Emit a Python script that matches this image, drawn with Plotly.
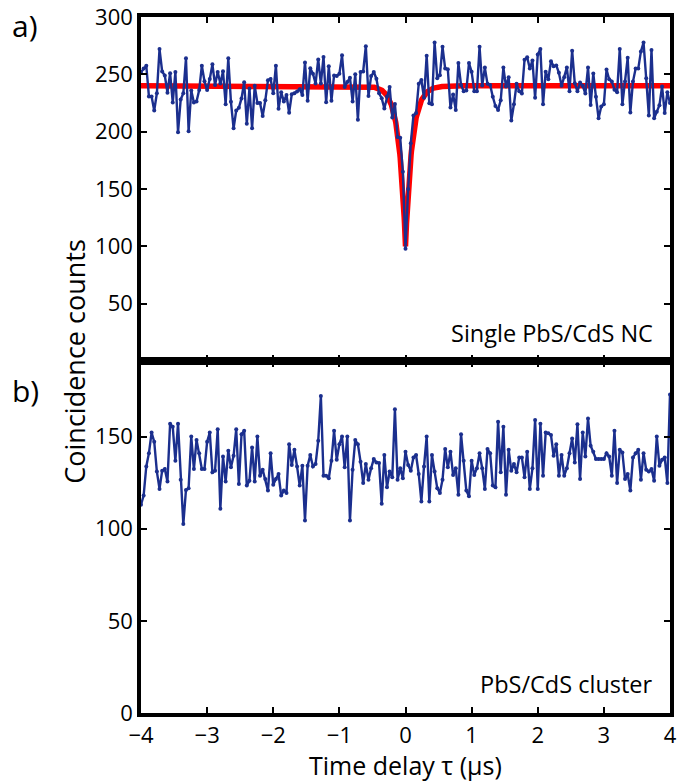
import numpy as np
import plotly.graph_objects as go
from plotly.subplots import make_subplots

# Time axis: 40 ns bins from -4 to 4 microseconds
t_start, t_stop, n_bins = -4.0, 4.0, 201
tau = np.linspace(t_start, t_stop, n_bins)

# (a) single PbS/CdS nanocrystal: coincidence counts per bin
counts_nc = [
    252, 255,
    257.5, 230.7, 230.7, 218.5, 233.5, 272, 252.5, 249, 234, 251,
    225.5, 252, 199.5, 228, 233.5, 264, 200.4, 236, 225.5, 226.4,
    236.3, 257.5, 244, 236.3, 246, 258.7, 240.6, 252, 242, 252.7,
    224, 264, 226, 203, 218.5, 220.8, 229, 243, 207, 237.7,
    203, 240, 225, 225, 213.7, 227.3, 244.8, 246, 233.5, 257.5,
    220, 234.3, 226.4, 232, 216.5, 232.6, 233.5, 235, 237, 232,
    260.4, 227, 255.3, 250.5, 242, 263,
    242, 265.2, 225.6, 257, 227, 249, 248.5, 250.5, 266.6, 239,
    243.4, 247, 226.4, 250, 210.3, 252, 252.5, 274.5, 231.2, 248.5,
    252, 246.2, 233.5, 229.2, 220.2, 230.7, 239, 212.3, 224.2, 195.3,
    194.7,
    165, 98, 150, 190,
    214, 216.2, 241.7, 245.1, 229.5, 266.3, 224.7, 223.9, 277.7, 246.5,
    249.3, 274, 255, 254.4, 221, 232.4, 219, 259.8, 240.8, 235.2,
    236, 259.8, 252.2, 235.2, 235.2, 274, 240.3, 255.9, 241.7, 240.8,
    230.4, 222.4, 219, 227.3, 255.9, 239.4, 247.4, 209.7, 223.9, 241.7,
    235.2, 233.2, 262.7, 264.9, 255, 262.1, 229.5, 267.2, 272, 223.9,
    252.2, 245.7, 261.5, 257, 257.8, 251.3, 240, 247.4, 255.9, 235.2,
    270.6, 242.3, 235.2, 242.8, 240, 233.2, 255.9, 223.3, 250.8, 230.4,
    211.7, 221.9, 223.9, 254.2, 245.7, 243.7, 236.6, 234.3, 272, 223.9,
    243.7, 264.4, 216.8, 243.7, 255, 255, 270, 277.7, 246.5, 214,
    271.2, 211.7, 217.3, 223, 239.4, 216.2, 234.3, 225,
]

# (b) PbS/CdS cluster: coincidence counts per bin
counts_cluster = [
    113, 118,
    133.8, 141, 152.2, 147.2, 131, 121.6, 131.5, 132.4, 125.6, 157,
    155.3, 136.9, 157, 126.6, 102.5, 121, 122, 150, 132.4, 148.2,
    141, 132.4, 132.4, 147.2, 152.2, 130.6, 131.5, 154, 110.8, 139.2,
    125.6, 142.3, 133.3, 139.6, 154, 124.3, 151.3, 153.1, 123.4, 126.1,
    144.1, 125.6, 150, 128.8, 132, 127, 120.7, 141, 123.8, 127,
    129.7, 118, 120.7, 119.4, 145.9, 134.6, 142.8, 133.8, 123.4, 134.2,
    104.5, 134.2, 140, 133.8, 135.1, 147.7, 172, 128.8, 128.8, 127.4,
    136.9, 153.1, 137.4, 145.9, 150, 133.3, 150, 104.5, 132, 148.1,
    145.9, 136.4, 124.8, 135.1, 126.6, 132.8, 137.8, 136, 135.6, 113.5,
    140, 122.5, 131, 127.9, 164.8, 126.6, 132.8, 127.4, 141.8,
    134.6, 131.5, 138.7, 140, 129.7, 114.8, 133.8, 150, 114.8, 140,
    131, 122, 119.4, 126.6, 143.2, 133.3, 141.8, 129.2, 132.8, 118.4,
    151.3, 136.9, 120.7, 117.6, 136.9, 129.2, 132.8, 141, 132.8, 121.6,
    143.2, 141, 123.4, 122.5, 158, 130.6, 155.3, 118.4, 142.8, 131.5,
    135.1, 130.6, 138.7, 138.7, 127.9, 141.8, 121.6, 132.8, 159, 121.6,
    157, 128.8, 152.2, 151.8, 150.8, 139.6, 145.9, 128.8, 140, 128.8,
    132.8, 141, 149, 136, 156.7, 127, 152.2, 139.2, 159.8, 145,
    141.8, 137.8, 137.8, 137.8, 137.8, 141, 139.2, 128.8, 153.1, 124.8,
    142.8, 141.4, 127, 129.7, 120.7, 138.7, 141, 142.8, 126.6, 141,
    132, 131, 132.4, 126.1, 150, 134.2, 137.4, 138.7, 124.8, 172.9,
]

# Antibunching fit parameters for panel (a)
fit_baseline = 240.0
fit_minimum = 100.0
fit_tau = 0.1  # microseconds
tau_fit = np.linspace(t_start, t_stop, 1601)
g_fit = fit_baseline - (fit_baseline - fit_minimum) * np.exp(-np.abs(tau_fit) / fit_tau)

x_ticks = [-4, -3, -2, -1, 0, 1, 2, 3, 4]
y_ticks_a = [50, 100, 150, 200, 250, 300]
y_ticks_b = [0, 50, 100, 150]

BLUE = "#1b2f8e"
RED = "#ff0000"
FONT = "Open Sans"

# Panel split (fraction of plot height) between the lower and upper panel
split = 0.5057

fig = make_subplots(rows=2, cols=1, shared_xaxes=True, vertical_spacing=0.0)

fig.add_trace(go.Scatter(x=tau_fit, y=g_fit, mode="lines",
                         line=dict(color=RED, width=5.5), hoverinfo="skip"),
              row=1, col=1)
fig.add_trace(go.Scatter(x=tau, y=counts_nc, mode="lines+markers",
                         line=dict(color=BLUE, width=2.4),
                         marker=dict(color=BLUE, size=4)),
              row=1, col=1)
fig.add_trace(go.Scatter(x=tau, y=counts_cluster, mode="lines+markers",
                         line=dict(color=BLUE, width=2.4),
                         marker=dict(color=BLUE, size=4)),
              row=2, col=1)

axis_common = dict(showline=True, linecolor="black", linewidth=3.5, mirror="allticks",
                   ticks="inside", ticklen=6, tickwidth=1.5, tickcolor="black",
                   showgrid=False, zeroline=False, ticklabeloverflow="allow",
                   automargin=False,
                   tickfont=dict(family=FONT, size=22, color="black"))

fig.update_xaxes(range=[t_start, t_stop], tickvals=x_ticks, **axis_common)
fig.update_xaxes(showticklabels=False, row=1, col=1)
fig.update_yaxes(range=[0, 300], tickvals=y_ticks_a, domain=[split, 1.0], row=1, col=1, **axis_common)
fig.update_yaxes(range=[0, 191], tickvals=y_ticks_b, domain=[0.0, split], row=2, col=1, **axis_common)

fig.add_annotation(text="Time delay τ (μs)", xref="paper", yref="paper",
                   x=0.5, y=-0.074, xanchor="center", yanchor="middle", showarrow=False,
                   font=dict(family=FONT, size=25, color="black"))
fig.add_annotation(text="Coincidence counts", textangle=-90, xref="paper", yref="paper",
                   x=-0.125, y=0.506, xanchor="center", yanchor="middle", showarrow=False,
                   font=dict(family=FONT, size=27, color="black"))
fig.add_annotation(text="Single PbS/CdS NC", xref="x", yref="y", x=3.78, y=9,
                   xanchor="right", yanchor="bottom", showarrow=False,
                   font=dict(family=FONT, size=23.5, color="black"))
fig.add_annotation(text="PbS/CdS cluster", xref="x2", yref="y2", x=3.78, y=6,
                   xanchor="right", yanchor="bottom", showarrow=False,
                   font=dict(family=FONT, size=23.5, color="black"))
fig.add_annotation(text="a)", xref="paper", yref="paper", x=-0.248, y=1.02,
                   xanchor="left", yanchor="top", showarrow=False,
                   font=dict(family=FONT, size=30, color="black"))
fig.add_annotation(text="b)", xref="paper", yref="paper", x=-0.248, y=0.496,
                   xanchor="left", yanchor="top", showarrow=False,
                   font=dict(family=FONT, size=30, color="black"))

fig.update_layout(width=680, height=782, margin=dict(l=141, r=10, t=17, b=69),
                  plot_bgcolor="white", paper_bgcolor="white", showlegend=False)

fig.write_html("out.html")
